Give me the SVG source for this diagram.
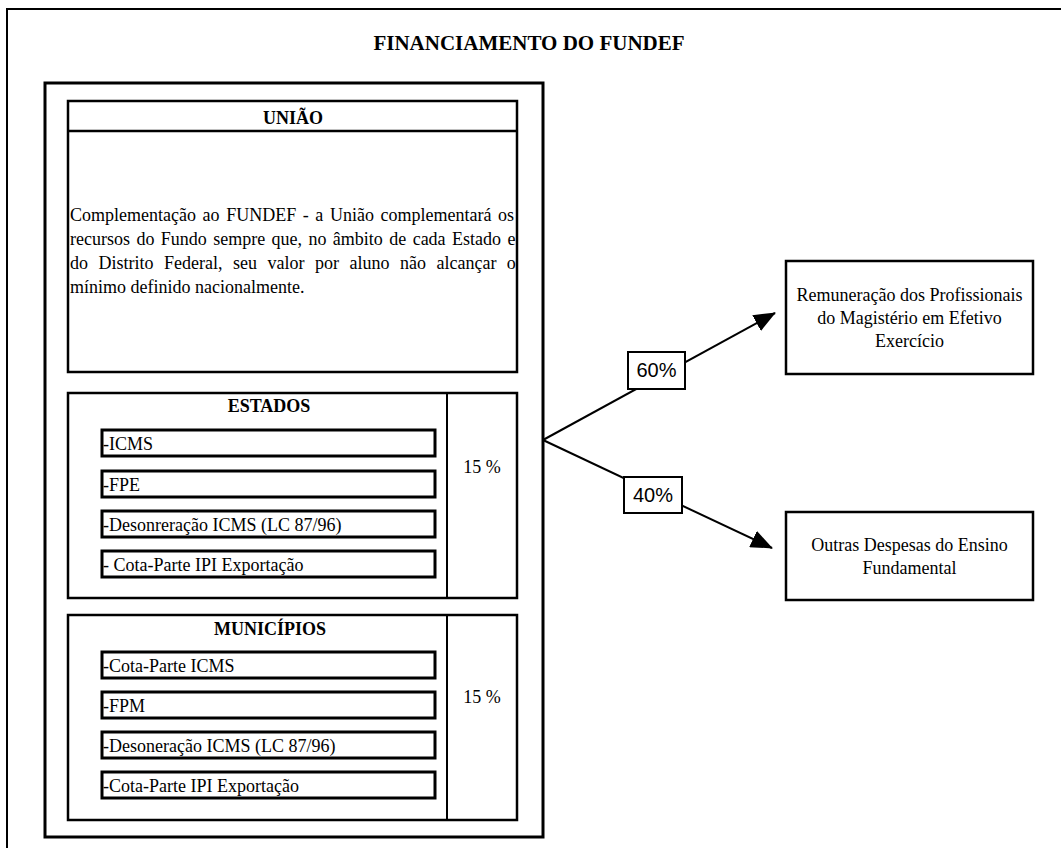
<svg xmlns="http://www.w3.org/2000/svg" width="1061" height="848" viewBox="0 0 1061 848">
  <style>
    .t { font-family: "Liberation Serif", "Times New Roman", serif; font-size: 18px; fill: #000; }
    .b { font-weight: bold; }
    .c { text-anchor: middle; }
    .box { fill: #fff; stroke: #000; stroke-width: 2.5; }
    .item { fill: #fff; stroke: #000; stroke-width: 3; }
    .lbl { fill: #fff; stroke: #000; stroke-width: 2; }
    .pct { font-family: "Liberation Sans", Arial, sans-serif; font-size: 20px; fill: #000; text-anchor: middle; }
    .conn { stroke: #000; stroke-width: 2; fill: none; }
  </style>
  <defs>
    <marker id="arrow" viewBox="0 0 22 18" refX="21" refY="9" markerWidth="22" markerHeight="18" markerUnits="userSpaceOnUse" orient="auto">
      <path d="M0,0 L22,9 L0,18 z" fill="#000"/>
    </marker>
  </defs>
  <rect width="1061" height="848" fill="#fff"/>

  <g id="frame">
    <path d="M7,848 L7,9 L1061,9" fill="none" stroke="#000" stroke-width="2"/>
    <text class="t b c" x="529" y="50" style="font-size:21px">FINANCIAMENTO DO FUNDEF</text>
  </g>

  <g id="container">
    <rect x="45" y="83" width="498" height="754" fill="#fff" stroke="#000" stroke-width="3"/>
  </g>

  <g id="uniao">
    <rect class="box" x="68" y="101" width="449" height="271"/>
    <line x1="68" y1="131" x2="517" y2="131" stroke="#000" stroke-width="2.5"/>
    <text class="t b c" x="293" y="124">UNIÃO</text>
    <text class="t" x="70" y="221" word-spacing="2.1">Complementação ao FUNDEF - a União complementará os</text>
    <text class="t" x="70" y="245" word-spacing="1.9">recursos do Fundo sempre que, no âmbito de cada Estado e</text>
    <text class="t" x="70" y="269" word-spacing="6">do Distrito Federal, seu valor por aluno não alcançar o</text>
    <text class="t" x="70" y="293">mínimo definido nacionalmente.</text>
  </g>

  <g id="estados">
    <rect class="box" x="68" y="393" width="449" height="205"/>
    <line x1="447" y1="393" x2="447" y2="598" stroke="#000" stroke-width="2"/>
    <text class="t b c" x="269" y="412">ESTADOS</text>
    <rect class="item" x="102" y="430" width="333" height="26"/>
    <text class="t" x="103" y="450">-ICMS</text>
    <rect class="item" x="102" y="471" width="333" height="26"/>
    <text class="t" x="103" y="491">-FPE</text>
    <rect class="item" x="102" y="511" width="333" height="26"/>
    <text class="t" x="103" y="531">-Desonreração ICMS (LC 87/96)</text>
    <rect class="item" x="102" y="551" width="333" height="26"/>
    <text class="t" x="103" y="571">- Cota-Parte IPI Exportação</text>
    <text class="t c" x="482" y="473">15 %</text>
  </g>

  <g id="municipios">
    <rect class="box" x="68" y="615" width="449" height="205"/>
    <line x1="447" y1="615" x2="447" y2="820" stroke="#000" stroke-width="2"/>
    <text class="t b c" x="270" y="635">MUNICÍPIOS</text>
    <rect class="item" x="102" y="652" width="333" height="26"/>
    <text class="t" x="103" y="672">-Cota-Parte ICMS</text>
    <rect class="item" x="102" y="692" width="333" height="26"/>
    <text class="t" x="103" y="712">-FPM</text>
    <rect class="item" x="102" y="732" width="333" height="26"/>
    <text class="t" x="103" y="752">-Desoneração ICMS (LC 87/96)</text>
    <rect class="item" x="102" y="772" width="333" height="26"/>
    <text class="t" x="103" y="792">-Cota-Parte IPI Exportação</text>
    <text class="t c" x="482" y="703">15 %</text>
  </g>

  <g id="connectors">
    <line class="conn" x1="543" y1="440" x2="775" y2="313" marker-end="url(#arrow)"/>
    <line class="conn" x1="543" y1="440" x2="772" y2="548" marker-end="url(#arrow)"/>
  </g>

  <g id="label60">
    <rect class="lbl" x="628" y="352" width="57" height="37"/>
    <text class="pct" x="656.5" y="377">60%</text>
  </g>
  <g id="label40">
    <rect class="lbl" x="624" y="477" width="58" height="36"/>
    <text class="pct" x="653" y="502">40%</text>
  </g>

  <g id="remuneracao">
    <rect class="box" x="786" y="261" width="247" height="113"/>
    <text class="t c" x="909.5" y="301">Remuneração dos Profissionais</text>
    <text class="t c" x="909.5" y="324">do Magistério em Efetivo</text>
    <text class="t c" x="909.5" y="347">Exercício</text>
  </g>

  <g id="outras">
    <rect class="box" x="786" y="512" width="247" height="88"/>
    <text class="t c" x="909.5" y="551">Outras Despesas do Ensino</text>
    <text class="t c" x="909.5" y="574">Fundamental</text>
  </g>
</svg>
